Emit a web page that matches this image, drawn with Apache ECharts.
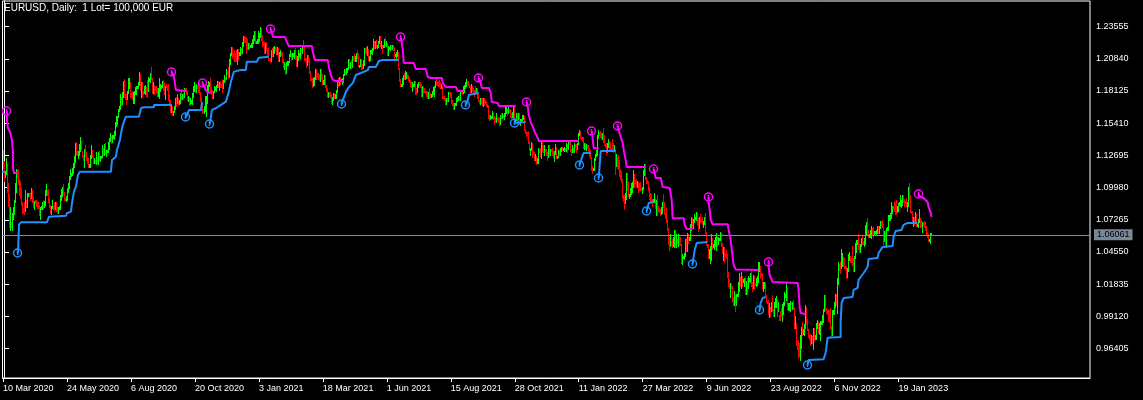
<!DOCTYPE html>
<html><head><meta charset="utf-8">
<script src="https://cdn.jsdelivr.net/npm/echarts@6/dist/echarts.min.js"></script>
<style>html,body{margin:0;padding:0;background:#000;}#c{width:1143px;height:400px;}</style>
</head><body><div id="c"></div>
<script>
const titleText = 'EURUSD, Daily:  1 Lot= 100,000 EUR';
const dateLabels = ['10 Mar 2020','24 May 2020','6 Aug 2020','20 Oct 2020','3 Jan 2021','18 Mar 2021','1 Jun 2021','15 Aug 2021','28 Oct 2021','11 Jan 2022','27 Mar 2022','9 Jun 2022','23 Aug 2022','6 Nov 2022','19 Jan 2023'];
const dateTickBars = [-1,63,127,191,255,319,383,447,511,575,639,703,767,831,895];
const priceTicks = [0.96405,0.99120,1.01835,1.04550,1.07265,1.09980,1.12695,1.15410,1.18125,1.20840,1.23555];
const currentPrice = 1.06061;

// daily bars from 12 Mar 2020 (one row per week: Sun..Fri)
const highs = [
1.131,1.122,
1.113,1.124,1.119,1.103,1.094,1.083,
1.070,1.078,1.083,1.089,1.103,1.115,
1.114,1.115,1.107,1.105,1.099,1.087,
1.082,1.087,1.097,1.089,1.095,1.095,
1.095,1.095,1.099,1.097,1.092,1.088,
1.089,1.089,1.088,1.087,1.085,1.083,
1.084,1.087,1.089,1.088,1.097,1.102,
1.097,1.098,1.091,1.085,1.084,1.089,
1.084,1.087,1.087,1.087,1.083,1.083,
1.084,1.093,1.098,1.100,1.102,1.096,
1.091,1.092,1.099,1.103,1.109,1.115,
1.112,1.116,1.120,1.126,1.137,1.138,
1.130,1.130,1.136,1.142,1.139,1.130,
1.127,1.132,1.135,1.129,1.125,1.124,
1.119,1.127,1.135,1.131,1.126,1.124,
1.123,1.129,1.125,1.129,1.130,1.126,
1.126,1.135,1.133,1.136,1.137,1.131,
1.131,1.138,1.141,1.145,1.143,1.144,
1.144,1.147,1.155,1.160,1.160,1.166,
1.168,1.178,1.176,1.180,1.189,1.191,
1.178,1.178,1.181,1.192,1.192,1.188,
1.179,1.181,1.180,1.181,1.184,1.185,
1.185,1.188,1.197,1.195,1.188,1.188,
1.181,1.185,1.186,1.184,1.190,1.193,
1.192,1.196,1.201,1.192,1.188,1.186,
1.185,1.185,1.183,1.183,1.192,1.187,
1.186,1.189,1.190,1.188,1.185,1.187,
1.185,1.187,1.178,1.173,1.169,1.168,
1.164,1.168,1.175,1.176,1.178,1.175,
1.173,1.179,1.181,1.178,1.179,1.183,
1.183,1.183,1.181,1.177,1.176,1.175,
1.173,1.179,1.185,1.188,1.186,1.187,
1.186,1.187,1.184,1.180,1.176,1.170,
1.166,1.168,1.177,1.177,1.186,1.189,
1.188,1.192,1.184,1.182,1.181,1.185,
1.184,1.186,1.189,1.189,1.188,1.189,
1.187,1.191,1.190,1.194,1.193,1.199,
1.198,1.201,1.208,1.213,1.218,1.218,
1.213,1.215,1.213,1.215,1.216,1.216,
1.214,1.218,1.217,1.222,1.227,1.227,
1.226,1.226,1.225,1.221,1.221,1.220,
1.221,1.225,1.228,1.231,1.231,1.223,
1.225,1.231,1.230,1.235,1.234,1.228,
1.223,1.223,1.221,1.222,1.217,1.217,
1.209,1.209,1.215,1.217,1.218,1.219,
1.218,1.218,1.218,1.217,1.214,1.215,
1.214,1.214,1.208,1.205,1.204,1.205,
1.206,1.206,1.212,1.215,1.213,1.213,
1.213,1.215,1.217,1.211,1.210,1.215,
1.213,1.217,1.217,1.218,1.224,1.219,
1.209,1.209,1.211,1.211,1.209,1.198,
1.192,1.192,1.192,1.193,1.199,1.199,
1.196,1.196,1.195,1.199,1.199,1.195,
1.190,1.194,1.194,1.186,1.183,1.180,
1.180,1.180,1.178,1.176,1.179,1.179,
1.178,1.182,1.188,1.192,1.193,1.193,
1.191,1.192,1.195,1.199,1.199,1.200,
1.200,1.208,1.208,1.205,1.207,1.210,
1.210,1.212,1.210,1.213,1.215,1.213,
1.203,1.208,1.208,1.204,1.207,1.217,
1.217,1.218,1.219,1.216,1.210,1.215,
1.215,1.217,1.225,1.223,1.223,1.224,
1.220,1.223,1.227,1.227,1.223,1.220,
1.220,1.225,1.226,1.223,1.221,1.219,
1.218,1.220,1.220,1.220,1.220,1.218,
1.212,1.214,1.215,1.214,1.200,1.191,
1.187,1.192,1.194,1.196,1.198,1.197,
1.194,1.194,1.193,1.190,1.188,1.188,
1.187,1.189,1.189,1.183,1.187,1.188,
1.188,1.188,1.187,1.185,1.184,1.183,
1.181,1.181,1.181,1.180,1.183,1.179,
1.178,1.181,1.184,1.185,1.189,1.191,
1.188,1.189,1.190,1.188,1.187,1.185,
1.177,1.177,1.175,1.175,1.175,1.180,
1.180,1.180,1.179,1.173,1.171,1.171,
1.171,1.175,1.176,1.177,1.178,1.181,
1.181,1.181,1.185,1.186,1.188,1.191,
1.189,1.189,1.187,1.185,1.187,1.185,
1.183,1.182,1.185,1.183,1.183,1.178,
1.173,1.175,1.175,1.175,1.175,1.175,
1.173,1.172,1.170,1.169,1.161,1.161,
1.160,1.164,1.163,1.160,1.159,1.162,
1.158,1.159,1.158,1.161,1.162,1.162,
1.161,1.162,1.167,1.167,1.166,1.167,
1.165,1.166,1.162,1.163,1.169,1.169,
1.157,1.162,1.162,1.162,1.162,1.157,
1.157,1.161,1.161,1.160,1.149,1.147,
1.146,1.147,1.139,1.133,1.138,1.137,
1.130,1.129,1.128,1.126,1.124,1.133,
1.132,1.133,1.138,1.138,1.135,1.135,
1.132,1.132,1.129,1.135,1.135,1.132,
1.132,1.133,1.130,1.130,1.136,1.134,
1.126,1.131,1.130,1.133,1.134,1.134,
1.133,1.134,1.133,1.137,1.136,1.139,
1.138,1.138,1.132,1.135,1.133,1.137,
1.136,1.136,1.137,1.145,1.148,1.147,
1.142,1.142,1.142,1.137,1.137,1.136,
1.135,1.135,1.133,1.131,1.125,1.118,
1.116,1.124,1.128,1.131,1.144,1.148,
1.146,1.147,1.145,1.145,1.150,1.144,
1.136,1.137,1.137,1.140,1.139,1.138,
1.133,1.140,1.137,1.135,1.132,1.128,
1.125,1.127,1.123,1.115,1.113,1.107,
1.093,1.093,1.095,1.112,1.112,1.104,
1.094,1.099,1.103,1.104,1.114,1.111,
1.106,1.107,1.105,1.104,1.103,1.104,
1.099,1.100,1.114,1.119,1.119,1.108,
1.106,1.105,1.100,1.095,1.094,1.090,
1.090,1.095,1.090,1.089,1.093,1.084,
1.082,1.081,1.083,1.087,1.094,1.087,
1.078,1.082,1.073,1.065,1.058,1.060,
1.054,1.056,1.058,1.064,1.064,1.060,
1.056,1.060,1.058,1.058,1.052,1.043,
1.042,1.044,1.056,1.057,1.061,1.060,
1.058,1.069,1.075,1.074,1.073,1.077,
1.075,1.079,1.078,1.074,1.075,1.077,
1.073,1.075,1.071,1.075,1.078,1.062,
1.052,1.052,1.048,1.050,1.060,1.057,
1.052,1.055,1.058,1.061,1.058,1.058,
1.057,1.062,1.061,1.053,1.049,1.049,
1.044,1.047,1.043,1.028,1.022,1.019,
1.018,1.016,1.007,1.012,1.009,1.010,
1.010,1.020,1.027,1.024,1.028,1.025,
1.022,1.023,1.025,1.021,1.023,1.025,
1.023,1.027,1.029,1.020,1.026,1.025,
1.019,1.023,1.025,1.037,1.037,1.033,
1.027,1.027,1.020,1.020,1.020,1.009,
1.004,1.005,1.002,0.999,1.003,1.009,
0.997,1.003,1.006,1.008,1.005,1.003,
0.992,0.995,0.998,1.001,1.003,1.011,
1.010,1.020,1.015,1.002,1.002,1.004,
1.003,1.003,1.005,0.999,0.991,0.985,
0.970,0.971,0.968,0.975,0.982,0.986,
0.980,0.984,1.000,0.999,0.989,0.980,
0.975,0.976,0.975,0.974,0.981,0.981,
0.975,0.985,0.988,0.987,0.985,0.987,
0.987,0.992,0.997,1.009,1.009,0.998,
0.996,0.997,0.996,0.998,0.983,0.996,
0.996,1.003,1.010,1.010,1.023,1.037,
1.035,1.037,1.048,1.044,1.041,1.040,
1.033,1.033,1.032,1.043,1.045,1.042,
1.040,1.050,1.040,1.042,1.053,1.055,
1.055,1.060,1.052,1.052,1.057,1.059,
1.054,1.057,1.068,1.070,1.074,1.064,
1.060,1.064,1.067,1.065,1.066,1.063,
1.063,1.064,1.067,1.067,1.067,1.071,
1.071,1.072,1.069,1.063,1.064,1.065,
1.066,1.076,1.076,1.078,1.087,1.084,
1.084,1.088,1.086,1.089,1.084,1.086,
1.087,1.093,1.089,1.093,1.093,1.090,
1.088,1.091,1.087,1.100,1.103,1.093,
1.080,1.080,1.075,1.075,1.079,1.077,
1.069,1.073,1.081,1.074,1.072,1.070,
1.070,1.071,1.070,1.067,1.062,1.060,
1.056,1.061,1.061
];
const lows = [
1.116,1.105,
1.108,1.111,1.096,1.084,1.066,1.064,
1.066,1.064,1.073,1.077,1.087,1.096,
1.108,1.102,1.093,1.091,1.085,1.078,
1.078,1.077,1.080,1.083,1.083,1.092,
1.092,1.089,1.091,1.087,1.083,1.081,
1.086,1.084,1.082,1.082,1.076,1.073,
1.081,1.081,1.081,1.083,1.085,1.093,
1.093,1.087,1.083,1.078,1.077,1.082,
1.081,1.080,1.081,1.080,1.078,1.078,
1.081,1.081,1.089,1.092,1.094,1.089,
1.089,1.088,1.089,1.096,1.099,1.107,
1.109,1.110,1.112,1.117,1.121,1.127,
1.127,1.124,1.127,1.130,1.132,1.125,
1.123,1.117,1.126,1.123,1.120,1.117,
1.117,1.117,1.124,1.125,1.120,1.120,
1.120,1.119,1.120,1.119,1.123,1.122,
1.124,1.125,1.127,1.127,1.128,1.126,
1.129,1.129,1.132,1.139,1.137,1.138,
1.141,1.140,1.144,1.151,1.153,1.159,
1.164,1.166,1.169,1.170,1.176,1.176,
1.174,1.170,1.174,1.179,1.183,1.176,
1.176,1.174,1.171,1.171,1.178,1.178,
1.183,1.183,1.186,1.182,1.176,1.176,
1.178,1.179,1.178,1.177,1.176,1.181,
1.189,1.188,1.191,1.179,1.179,1.178,
1.182,1.180,1.177,1.177,1.175,1.181,
1.183,1.184,1.182,1.178,1.174,1.184,
1.182,1.173,1.170,1.163,1.163,1.161,
1.161,1.163,1.166,1.168,1.171,1.170,
1.170,1.171,1.174,1.174,1.174,1.176,
1.181,1.178,1.173,1.172,1.169,1.170,
1.171,1.170,1.176,1.181,1.180,1.180,
1.183,1.180,1.178,1.172,1.165,1.162,
1.163,1.162,1.164,1.160,1.171,1.181,
1.185,1.180,1.178,1.175,1.175,1.180,
1.182,1.181,1.184,1.184,1.182,1.184,
1.184,1.180,1.183,1.188,1.189,1.191,
1.195,1.192,1.193,1.204,1.211,1.209,
1.210,1.206,1.206,1.206,1.204,1.208,
1.211,1.211,1.212,1.213,1.219,1.222,
1.222,1.213,1.216,1.216,1.217,1.218,
1.218,1.218,1.221,1.224,1.221,1.221,
1.221,1.221,1.223,1.226,1.224,1.219,
1.220,1.213,1.213,1.215,1.211,1.207,
1.207,1.205,1.206,1.210,1.210,1.213,
1.215,1.212,1.212,1.206,1.206,1.210,
1.211,1.205,1.201,1.199,1.195,1.196,
1.203,1.203,1.205,1.210,1.207,1.208,
1.210,1.209,1.208,1.202,1.202,1.207,
1.210,1.209,1.211,1.213,1.216,1.207,
1.206,1.201,1.203,1.205,1.196,1.189,
1.190,1.184,1.185,1.186,1.191,1.191,
1.193,1.191,1.190,1.189,1.191,1.187,
1.187,1.187,1.184,1.181,1.176,1.176,
1.177,1.176,1.171,1.170,1.173,1.175,
1.175,1.175,1.180,1.185,1.186,1.187,
1.189,1.187,1.188,1.194,1.195,1.195,
1.197,1.199,1.201,1.200,1.200,1.201,
1.207,1.206,1.206,1.206,1.209,1.202,
1.201,1.202,1.199,1.199,1.200,1.203,
1.214,1.212,1.211,1.207,1.206,1.207,
1.213,1.212,1.215,1.217,1.217,1.218,
1.217,1.218,1.221,1.219,1.217,1.213,
1.218,1.218,1.220,1.219,1.211,1.211,
1.216,1.215,1.216,1.216,1.215,1.209,
1.210,1.209,1.210,1.199,1.189,1.185,
1.185,1.185,1.187,1.191,1.191,1.192,
1.192,1.190,1.188,1.185,1.184,1.181,
1.185,1.185,1.178,1.178,1.180,1.184,
1.186,1.184,1.177,1.177,1.179,1.180,
1.179,1.177,1.175,1.175,1.175,1.176,
1.176,1.177,1.178,1.177,1.184,1.186,
1.186,1.185,1.185,1.183,1.183,1.175,
1.175,1.173,1.170,1.170,1.172,1.172,
1.178,1.176,1.171,1.169,1.166,1.166,
1.169,1.169,1.172,1.173,1.173,1.173,
1.179,1.178,1.179,1.180,1.183,1.185,
1.187,1.186,1.184,1.180,1.180,1.181,
1.180,1.177,1.178,1.179,1.175,1.172,
1.171,1.170,1.171,1.169,1.168,1.169,
1.171,1.168,1.167,1.158,1.156,1.157,
1.158,1.158,1.157,1.153,1.155,1.155,
1.156,1.155,1.152,1.153,1.158,1.158,
1.159,1.157,1.160,1.162,1.161,1.162,
1.163,1.159,1.158,1.159,1.158,1.154,
1.155,1.156,1.158,1.157,1.153,1.152,
1.155,1.156,1.157,1.148,1.145,1.143,
1.144,1.137,1.131,1.127,1.131,1.125,
1.128,1.123,1.123,1.119,1.120,1.120,
1.129,1.126,1.124,1.130,1.129,1.127,
1.130,1.127,1.123,1.125,1.127,1.127,
1.130,1.127,1.125,1.122,1.128,1.124,
1.124,1.125,1.127,1.127,1.130,1.131,
1.131,1.130,1.130,1.130,1.129,1.132,
1.136,1.130,1.127,1.129,1.129,1.129,
1.134,1.129,1.132,1.136,1.144,1.141,
1.140,1.139,1.133,1.132,1.132,1.131,
1.133,1.130,1.126,1.124,1.114,1.112,
1.114,1.114,1.123,1.126,1.127,1.141,
1.144,1.142,1.140,1.140,1.138,1.135,
1.134,1.128,1.129,1.134,1.132,1.131,
1.130,1.131,1.129,1.130,1.111,1.118,
1.116,1.115,1.109,1.107,1.104,1.091,
1.088,1.081,1.086,1.090,1.097,1.092,
1.091,1.092,1.094,1.096,1.100,1.100,
1.103,1.101,1.100,1.096,1.097,1.097,
1.097,1.095,1.098,1.110,1.107,1.103,
1.103,1.097,1.090,1.087,1.086,1.084,
1.087,1.087,1.082,1.076,1.076,1.080,
1.079,1.076,1.077,1.078,1.083,1.077,
1.074,1.070,1.064,1.052,1.047,1.050,
1.051,1.049,1.050,1.049,1.049,1.049,
1.053,1.050,1.051,1.051,1.036,1.035,
1.040,1.039,1.042,1.046,1.046,1.053,
1.055,1.055,1.064,1.066,1.065,1.070,
1.073,1.072,1.068,1.063,1.065,1.070,
1.071,1.069,1.066,1.069,1.061,1.051,
1.049,1.040,1.040,1.036,1.038,1.048,
1.049,1.048,1.050,1.047,1.050,1.052,
1.055,1.055,1.050,1.044,1.038,1.037,
1.042,1.040,1.024,1.016,1.015,1.007,
1.015,1.004,1.000,1.000,0.995,1.000,
1.008,1.008,1.012,1.016,1.015,1.016,
1.020,1.016,1.010,1.010,1.010,1.015,
1.021,1.020,1.016,1.012,1.015,1.014,
1.017,1.016,1.017,1.020,1.029,1.023,
1.025,1.015,1.012,1.015,1.008,1.003,
1.002,0.993,0.990,0.991,0.995,0.995,
0.991,0.991,0.999,0.999,0.991,0.995,
0.988,0.988,0.991,0.987,0.993,1.000,
1.007,1.005,0.997,0.996,0.996,0.995,
1.001,0.997,0.997,0.981,0.981,0.967,
0.963,0.956,0.957,0.954,0.964,0.975,
0.976,0.975,0.981,0.984,0.979,0.973,
0.972,0.967,0.968,0.968,0.963,0.971,
0.972,0.972,0.981,0.977,0.976,0.971,
0.984,0.984,0.986,0.995,0.996,0.994,
0.993,0.988,0.986,0.981,0.973,0.975,
0.993,0.993,0.999,1.000,0.994,1.018,
1.030,1.027,1.032,1.033,1.033,1.032,
1.031,1.023,1.024,1.029,1.038,1.037,
1.037,1.034,1.029,1.029,1.040,1.045,
1.052,1.048,1.045,1.045,1.050,1.052,
1.052,1.050,1.052,1.059,1.059,1.058,
1.058,1.058,1.057,1.060,1.058,1.059,
1.061,1.060,1.061,1.061,1.061,1.065,
1.068,1.066,1.052,1.054,1.051,1.049,
1.064,1.064,1.072,1.072,1.074,1.078,
1.082,1.080,1.077,1.077,1.079,1.080,
1.085,1.084,1.083,1.085,1.087,1.084,
1.086,1.084,1.080,1.084,1.090,1.079,
1.078,1.071,1.067,1.068,1.070,1.067,
1.067,1.066,1.070,1.066,1.066,1.062,
1.068,1.066,1.064,1.060,1.058,1.054,
1.054,1.053,1.060
];
const bull = [
0,0,
1,1,0,0,0,1, 0,1,1,1,1,1, 0,0,0,0,0,0, 0,0,1,0,1,1, 0,0,1,0,0,1, 0,0,0,0,0,1,
1,1,0,1,1,1, 0,0,0,0,1,1, 0,0,1,0,0,1, 1,1,1,1,0,0, 0,1,1,1,1,1, 1,1,1,1,1,0,
0,1,1,1,0,0, 0,1,0,0,0,0, 1,1,1,0,0,1, 0,1,0,1,0,1, 1,1,0,1,0,1, 1,1,1,1,0,1,
1,1,1,1,1,1, 1,1,0,1,1,0, 0,0,1,1,1,0, 0,0,1,1,1,1, 1,1,1,0,1,0, 0,1,1,0,0,1,
1,1,0,0,1,0, 0,0,0,1,1,1, 1,1,0,0,1,0, 0,0,0,0,1,0, 1,1,1,0,1,0, 1,1,0,1,0,1,
0,0,0,1,0,1, 1,1,1,1,0,1, 0,0,0,0,0,0, 0,1,1,1,1,1, 1,0,0,0,1,1, 1,1,1,0,1,0,
0,0,1,1,0,1, 0,0,1,1,1,0, 0,0,0,0,1,0, 1,1,0,1,1,0, 0,0,0,1,0,1, 1,1,1,1,0,1,
1,1,1,1,0,0, 0,0,1,0,0,0, 0,0,1,0,1,1, 0,0,1,0,1,1, 0,0,0,1,0,1, 1,1,1,1,0,1,
1,1,0,0,1,1, 1,1,0,1,0,0, 0,0,1,0,0,0, 0,0,1,1,1,0, 0,0,0,1,0,0, 1,1,0,0,0,1,
0,0,0,1,1,0, 1,1,1,0,1,0, 1,1,1,1,0,1, 1,1,0,1,0,1, 0,0,1,1,0,0, 1,1,0,0,1,1,
0,0,1,0,1,1, 1,1,1,0,1,0, 1,1,1,0,1,0, 1,1,0,1,0,1, 1,1,0,1,0,0, 1,1,1,0,0,0,
1,1,1,0,1,1, 0,0,0,0,0,1, 1,1,0,0,1,1, 0,0,0,1,0,0, 0,0,0,1,0,0, 1,1,1,1,1,0,
0,0,0,0,1,0, 0,0,0,1,0,1, 0,0,0,0,0,1, 1,1,1,1,0,1, 0,0,1,1,1,1, 0,0,0,0,1,0,
0,0,0,1,0,0, 0,1,0,0,1,0, 0,0,0,0,0,1, 1,1,0,0,0,1, 0,0,0,1,0,1, 0,1,1,1,0,1,
0,0,0,1,1,0, 1,1,0,1,0,1, 1,1,1,0,0,0, 0,0,0,1,1,0, 0,0,1,0,1,1, 0,0,1,0,0,1,
0,0,0,1,0,1, 0,0,0,1,1,0, 1,1,0,1,1,0, 1,1,0,1,0,1, 0,0,0,1,0,1, 0,0,1,1,1,0,
0,0,0,1,0,1, 0,0,0,0,0,0, 1,1,1,1,1,1, 0,0,0,1,0,0, 0,0,1,1,0,0, 0,0,0,1,0,1,
0,0,0,0,0,0, 0,0,1,1,0,0, 1,1,1,1,1,0, 0,0,1,0,0,0, 0,1,1,1,0,0, 0,0,0,0,0,0,
1,1,0,1,0,0, 0,0,1,1,0,0, 0,0,0,0,0,1, 0,0,1,1,0,1, 0,1,0,0,0,1, 1,1,1,0,1,0,
1,1,1,0,1,1, 1,1,0,0,1,0, 0,0,1,1,0,0, 0,0,1,1,1,0, 1,1,1,1,0,1, 1,1,0,0,1,0,
0,0,0,0,0,1, 0,0,0,1,0,1, 1,1,1,0,1,0, 1,1,0,1,0,1, 1,1,0,0,1,0, 0,1,1,1,1,0,
0,0,1,1,0,0, 0,0,1,0,1,0, 0,1,1,1,0,1, 0,0,0,1,1,1, 1,1,0,1,1,1, 0,1,0,0,1,0,
0,0,0,1,1,0, 1,1,1,0,0,0, 0,0,1,0,1,0, 1,1,1,0,1,1, 1,1,1,1,0,0, 0,0,0,0,0,1,
1,1,1,0,1,1, 0,0,1,1,0,0, 0,0,1,1,1,0, 0,0,0,1,1,1, 1,0,0,1,1,0, 0,1,1,1,0,0,
1,1,1,0,0,1, 1,1,1,0,1,1, 0,0,0,1,0,1, 1,1,1,1,1,1, 0,0,0,0,1,1, 1,1,1,1,0,0,
0,0,1,1,0,0, 0,0,1,0,1,0, 1,1,1,0,0,1, 0,0,0,0,0,0,
1,1,1
];

// indicator signals [bar, price]
const sellSignals = [[3,1.1644],[168,1.1975],[199,1.1883],[267,1.2336],[397,1.2268],[475,1.1922],[523,1.1720],[588,1.1475],[614,1.1517],[650,1.1155],[705,1.0919],[765,1.0371],[915,1.0944]];
const buySignals = [[14,1.0445],[182,1.1591],[206,1.1535],[338,1.1702],[462,1.1694],[511,1.1542],[576,1.1189],[595,1.1079],[643,1.0801],[689,1.0354],[756,0.9966],[804,0.9503]];

// indicator stop lines [bar, price]
const sellLines = [
[[3,1.1644],[3,1.1551],[4,1.1500],[6,1.1467],[8,1.1399],[9,1.1290],[9,1.1163],[10,1.1121],[14,1.1121]],
[[168,1.1975],[170,1.1933],[172,1.1821],[173,1.1813],[182,1.1813]],
[[199,1.1883],[201,1.1830],[204,1.1800],[208,1.1800]],
[[267,1.2336],[268,1.2311],[269,1.2268],[281,1.2268],[283,1.2226],[285,1.2192],[308,1.2192],[309,1.2142],[311,1.2074],[324,1.2074],[325,1.2015],[327,1.1948],[329,1.1906],[332,1.1897],[340,1.1897]],
[[397,1.2268],[398,1.2217],[399,1.2158],[400,1.2048],[410,1.2048],[412,1.1998],[422,1.1998],[424,1.1931],[427,1.1922],[438,1.1922],[439,1.1880],[442,1.1846],[452,1.1846],[454,1.1813],[460,1.1813]],
[[475,1.1922],[477,1.1880],[478,1.1838],[485,1.1838],[487,1.1796],[488,1.1720],[490,1.1711],[494,1.1711],[495,1.1686],[512,1.1686]],
[[523,1.1720],[524,1.1678],[525,1.1610],[527,1.1551],[529,1.1509],[531,1.1467],[534,1.1416],[535,1.1391],[575,1.1391]],
[[588,1.1475],[590,1.1330],[595,1.1330]],
[[614,1.1517],[615,1.1483],[617,1.1424],[619,1.1374],[620,1.1315],[622,1.1230],[623,1.1171],[642,1.1171]],
[[650,1.1155],[652,1.1079],[657,1.1079],[659,1.1003],[660,1.0995],[666,1.0995],[668,1.0894],[669,1.0739],[680,1.0739],[681,1.0683],[683,1.0649],[689,1.0649]],
[[705,1.0919],[705,1.0868],[706,1.0810],[707,1.0725],[709,1.0689],[724,1.0689],[725,1.0641],[727,1.0556],[729,1.0413],[730,1.0345],[732,1.0308],[755,1.0303]],
[[765,1.0371],[765,1.0329],[766,1.0261],[769,1.0202],[770,1.0194],[794,1.0194],[795,1.0135],[796,0.9991],[797,0.9941],[802,0.9932]],
[[915,1.0944],[917,1.0919],[920,1.0910],[924,1.0877],[925,1.0835],[927,1.0792],[928,1.0750]]
];
const buyLines = [
[[-2,1.1132],[1,1.1132]],
[[14,1.0445],[15,1.0683],[17,1.0706],[43,1.0706],[45,1.0753],[47,1.0761],[62,1.0761],[63,1.0782],[67,1.0795],[68,1.0866],[70,1.0964],[72,1.1006],[74,1.1105],[76,1.1132],[107,1.1132],[108,1.1231],[112,1.1259],[113,1.1315],[116,1.1400],[118,1.1498],[120,1.1554],[122,1.1596],[135,1.1596],[137,1.1667],[140,1.1675],[150,1.1675],[150,1.1695],[168,1.1695]],
[[182,1.1591],[185,1.1652],[197,1.1652],[198,1.1711],[199,1.1711]],
[[206,1.1535],[208,1.1653],[212,1.1667],[217,1.1695],[222,1.1723],[225,1.1807],[227,1.1891],[230,1.1976],[237,1.1990],[242,1.1990],[243,1.2060],[253,1.2060],[255,1.2093],[265,1.2102]],
[[338,1.1702],[339,1.1736],[342,1.1803],[345,1.1846],[349,1.1880],[352,1.1947],[357,1.1964],[364,1.1989],[365,1.2015],[372,1.2015],[375,1.2066],[379,1.2074],[395,1.2074]],
[[462,1.1694],[464,1.1736],[465,1.1779],[469,1.1787],[475,1.1795]],
[[511,1.1542],[512,1.1551],[522,1.1551]],
[[576,1.1189],[578,1.1248],[580,1.1290],[587,1.1290]],
[[595,1.1079],[597,1.1307],[612,1.1307]],
[[643,1.0801],[644,1.0835],[645,1.0868],[649,1.0877]],
[[689,1.0354],[690,1.0413],[691,1.0472],[693,1.0531],[695,1.0540],[704,1.0540]],
[[756,0.9966],[757,1.0025],[759,1.0067],[762,1.0075]],
[[804,0.9503],[805,0.9545],[820,0.9551],[822,0.9604],[824,0.9731],[825,0.9739],[837,0.9739],[837,0.9865],[838,1.0025],[840,1.0067],[849,1.0076],[850,1.0135],[854,1.0152],[855,1.0219],[857,1.0244],[860,1.0278],[864,1.0329],[865,1.0396],[874,1.0405],[875,1.0447],[879,1.0497],[889,1.0506],[890,1.0582],[892,1.0632],[898,1.0641],[900,1.0683],[904,1.0700],[914,1.0700]]
];

const UP = '#00ff00', DOWN = '#ff0000', SELL = '#ff00ff', BUY = '#1e90ff', FG = '#ffffff';
const FONT = 'Liberation Sans';
const pxPerPrice = 0.00084317;
const yMax = 1.23555 + 25.6 * pxPerPrice;
const yMin = yMax - 377 * pxPerPrice;

const barData = highs.map((h, i) => [i, lows[i], h, bull[i]]);

function signalRenderer(color, dir) {
  return function (params, api) {
    const c = api.coord([api.value(0), api.value(1)]);
    const cx = Math.round(c[0] - 0.5) + 0.5, cy = Math.round(c[1]);
    return {
      type: 'group',
      children: [
        { type: 'circle', shape: { cx: cx, cy: cy, r: 4 }, style: { fill: 'none', stroke: color, lineWidth: 1.5 } },
        { type: 'line', shape: { x1: cx, y1: cy - 2 * dir, x2: cx, y2: cy + 3 * dir }, style: { stroke: color, lineWidth: 1.5 } }
      ]
    };
  };
}

const series = [];
series.push({
  type: 'custom',
  data: barData,
  encode: { x: 0, y: [1, 2] },
  clip: true,
  z: 2,
  renderItem: function (params, api) {
    const x = api.value(0);
    const lo = api.coord([x, api.value(1)]);
    const hi = api.coord([x, api.value(2)]);
    const px = Math.round(lo[0] - 0.5) + 0.5;
    let y1 = Math.floor(hi[1]), y2 = Math.ceil(lo[1]);
    if (y2 - y1 < 1) y2 = y1 + 1;
    return { type: 'line', shape: { x1: px, y1: y1, x2: px, y2: y2 }, style: { stroke: api.value(3) ? UP : DOWN, lineWidth: 1 } };
  }
});
sellLines.forEach((seg, k) => {
  const s = { type: 'line', data: seg, symbol: 'none', z: 4, lineStyle: { color: SELL, width: 2 } };
  if (k === 0) {
    s.markLine = {
      silent: true, symbol: ['none', 'none'], z: 3,
      lineStyle: { color: '#8c8c8c', width: 1, type: 'solid' },
      data: [{ yAxis: currentPrice }],
      label: { show: true, position: 'end', distance: 4, formatter: currentPrice.toFixed(5), backgroundColor: '#778899', color: '#000', padding: [1, 3, 0, 3], fontSize: 9, lineHeight: 10, fontFamily: FONT }
    };
  }
  series.push(s);
});
buyLines.forEach(seg => series.push({ type: 'line', data: seg, symbol: 'none', z: 4, lineStyle: { color: BUY, width: 2 } }));
series.push({ type: 'custom', data: sellSignals, z: 5, renderItem: signalRenderer(SELL, 1) });
series.push({ type: 'custom', data: buySignals, z: 5, renderItem: signalRenderer(BUY, -1) });

const chart = echarts.init(document.getElementById('c'), null, { renderer: 'canvas' });
chart.setOption({
  backgroundColor: '#000000',
  animation: false,
  grid: { left: 2, top: 1, width: 1088, height: 377, show: true, borderColor: FG, borderWidth: 1, backgroundColor: '#000' },
  graphic: [{ type: 'text', left: 4, top: 3, style: { text: titleText, fill: FG, font: '10px "Liberation Sans"' } }],
  xAxis: {
    type: 'value', min: -1.5, max: 1086.5,
    splitLine: { show: false },
    axisLine: { show: true, lineStyle: { color: FG } },
    axisTick: { show: true, customValues: dateTickBars, length: 4, lineStyle: { color: FG } },
    axisLabel: { customValues: dateTickBars, formatter: v => dateLabels[dateTickBars.indexOf(v)], color: FG, fontSize: 9, fontFamily: FONT, align: 'left', margin: 6 }
  },
  yAxis: {
    type: 'value', position: 'right', min: yMin, max: yMax,
    splitLine: { show: false },
    axisLine: { show: true, lineStyle: { color: FG } },
    axisTick: { show: true, customValues: priceTicks, length: 5, lineStyle: { color: FG } },
    axisLabel: { customValues: priceTicks, formatter: v => v.toFixed(5), color: FG, fontSize: 9, fontFamily: FONT, margin: 6 }
  },
  series: series
});
</script>
</body></html>
